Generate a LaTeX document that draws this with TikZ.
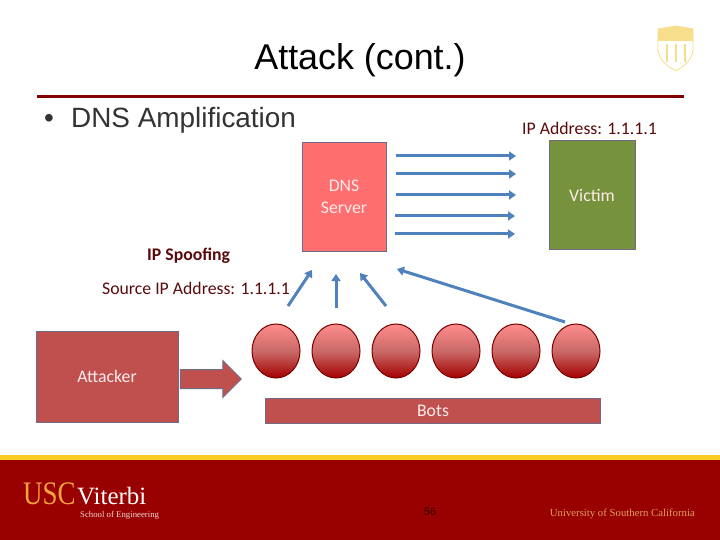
\documentclass[tikz,border=0pt]{standalone}
\usepackage{fontspec}
\setmainfont{Carlito}
\newfontfamily\titlefont{Liberation Sans}
\newfontfamily\logofont{Liberation Serif}
\usepackage{xcolor}
\usetikzlibrary{arrows.meta, positioning, shapes.arrows, shapes.geometric}
\definecolor{uscred}{HTML}{990000}
\definecolor{uscgold}{HTML}{FFCC22}
\definecolor{uscorange}{HTML}{F2A33C}
\definecolor{univgold}{HTML}{DDA060}
\definecolor{brick}{HTML}{C0504D}
\definecolor{slateline}{HTML}{6F6A85}
\definecolor{arrowblue}{HTML}{4F81BD}
\definecolor{labelred}{HTML}{5A0A0A}
\definecolor{dnsred}{HTML}{FF6F6F}
\definecolor{victimgreen}{HTML}{76923C}
\definecolor{crest}{HTML}{F7DE8C}

\begin{document}
\begin{tikzpicture}[
  x=1bp, y=-1bp,
  box/.style={draw=slateline, line width=1bp, inner sep=0pt, align=center, text=white!92!red,
              font=\fontsize{17.8}{22}\selectfont},
  lbl/.style={text=labelred, inner sep=0pt, font=\fontsize{17.8}{20}\selectfont},
  bot/.style={ellipse, draw=uscred!80!black, line width=1bp, minimum width=48bp, minimum height=54bp,
              inner sep=0pt, top color=red!45!white, bottom color=uscred!90!red, middle color=brick!85!white},
  arr/.style={-{Triangle[length=7bp,width=9bp]}, draw=arrowblue, line width=3bp},
]
\useasboundingbox (0,0) rectangle (720,540);
\fill[white] (0,0) rectangle (720,540);

% header
\node[inner sep=0pt, font=\titlefont\fontsize{36}{40}\selectfont, text=black] (title) at (360,60) {Attack (cont.)};
\fill[uscred!85!black] (37,95) rectangle (684,98);
\node[inner sep=0pt, anchor=west, font=\titlefont\fontsize{28}{32}\selectfont, text=black!80] (bullet) at (44,120) {\makebox[27bp][l]{\textbullet}DNS Amplification};

% logo
\draw[crest, line width=.8bp, fill=white] (658,29) -- (676,26) -- (693,29) -- (693,50) .. controls (692,60) and (684,66) .. (676,71) .. controls (667,66) and (659,60) .. (658,50) -- cycle;
\fill[crest] (658,29) -- (676,26) -- (693,29) -- (693,41) -- (658,41) -- cycle;
\foreach \lx in {667,676,685}
  \draw[crest, line width=1.5bp] (\lx,44) -- (\lx,62);

% servers
\node[box, fill=dnsred, minimum width=84bp, minimum height=108bp] (dns) at (344,197) {DNS\\Server};
\node[box, fill=victimgreen, minimum width=86bp, minimum height=108bp] (victim) at (592,195) {Victim};
\node[lbl, anchor=west] (addr) at (522,128) {IP Address: 1.1.1.1};
\node[lbl, anchor=west] (spoof) at (147,256) {\textbf{IP Spoofing}};
\node[lbl, anchor=west] (src) at (102,288) {Source IP Address: 1.1.1.1};

% attacker side
\node[box, fill=brick, minimum width=141bp, minimum height=91bp] (attacker) at (107.5,376.5) {};
\node[inner sep=0pt, text=white!92!red, font=\fontsize{17.8}{20}\selectfont] (attackertxt) at (107,376) {Attacker};
\node[single arrow, draw=slateline, fill=brick, line width=1bp, minimum height=61bp, minimum width=36bp,
      single arrow head extend=9bp, single arrow tip angle=90, inner sep=9bp] (push) at (206,379) {};
\node[box, fill=brick, minimum width=335bp, minimum height=25bp] (bots) at (433,410.5) {Bots};

\foreach \n/\cx in {1/276,2/336,3/396,4/456,5/516,6/576}
  \node[bot] (b\n) at (\cx,351) {};

% reflected traffic
\foreach \n/\sx/\sy in {a/396/156,b/396/174,c/396/195,d/395/216,e/395/234} {
  \coordinate (from\n) at (\sx,\sy);
  \coordinate (to\n) at ({\sx+120},\sy);
  \draw[arr] (from\n) -- (to\n);
}

% queries
\coordinate (q1) at (288,306); \coordinate (t1) at (312,270);
\coordinate (q2) at (336,308); \coordinate (t2) at (336,274);
\coordinate (q3) at (386,306); \coordinate (t3) at (360,273);
\coordinate (q4) at (565,322); \coordinate (t4) at (397,269);
\foreach \n in {1,2,3,4}
  \draw[arr] (q\n) -- (t\n);

% footer
\fill[uscred] (0,460) rectangle (720,540);
\fill[uscgold] (0,455) rectangle (720,460);
\node[inner sep=0pt, anchor=base west, xscale=.82, font=\logofont\fontsize{33}{34}\selectfont, text=uscorange] (usc) at (23,504) {USC};
\node[inner sep=0pt, anchor=base west, font=\logofont\fontsize{25}{30}\selectfont, text=white] (viterbi) at (77,504) {Viterbi};
\node[inner sep=0pt, anchor=west, font=\logofont\fontsize{8.8}{10}\selectfont, text=white!85!uscred] (school) at (80,515) {School of Engineering};
\node[inner sep=0pt, font=\titlefont\fontsize{11}{12}\selectfont, text=black!70!uscred] (page) at (430,512) {56};
\node[inner sep=0pt, anchor=east, font=\logofont\fontsize{10.8}{12}\selectfont, text=univgold] (univ) at (695,514) {University of Southern California};
\end{tikzpicture}
\end{document}
